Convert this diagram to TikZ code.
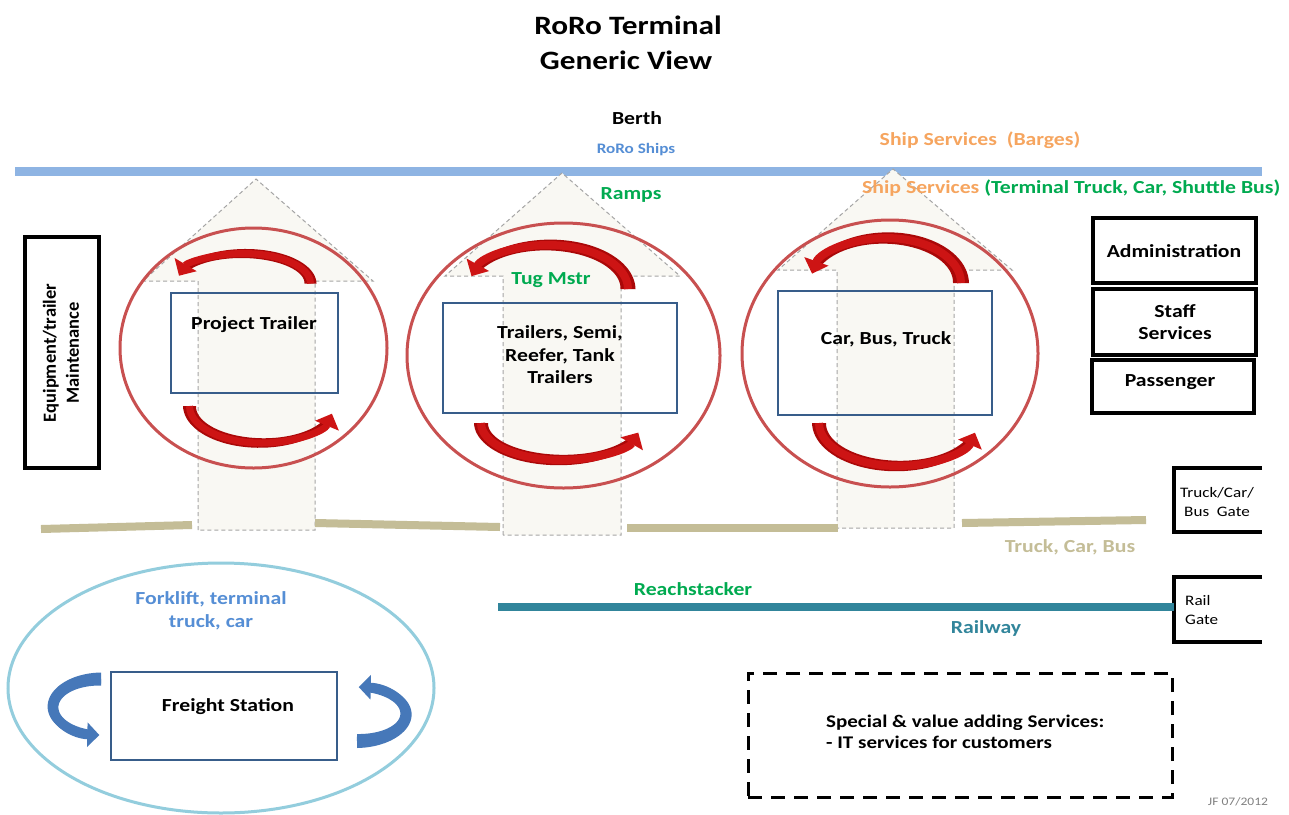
\documentclass[tikz,border=0pt]{standalone}
\usepackage{fontspec}
\setmainfont{Carlito}[FakeStretch=1.18]
\newfontfamily\upfont{Carlito}
\usetikzlibrary{arrows.meta}
\definecolor{tgreen}{RGB}{0,170,80}
\definecolor{torange}{RGB}{246,165,95}
\definecolor{tblue}{RGB}{85,142,213}
\definecolor{roadbeige}{RGB}{196,189,151}
\definecolor{railteal}{RGB}{49,133,155}
\definecolor{berthblue}{RGB}{142,180,227}
\definecolor{ringred}{RGB}{200,80,80}
\definecolor{arrowred}{RGB}{170,8,8}
\definecolor{arrowredhi}{RGB}{205,20,20}
\definecolor{arrowblue}{RGB}{70,120,185}
\definecolor{frameblue}{RGB}{56,93,138}
\definecolor{rampfill}{RGB}{249,248,243}
\definecolor{rampgray}{RGB}{165,165,165}
\definecolor{lightring}{RGB}{147,205,221}
\newcommand\lblfont{\bfseries\fontsize{18.4}{22.5}\selectfont}
\newcommand\smallfont{\fontsize{14.5}{19}\selectfont}
% #1 style prefix, #2 cx, #3 cy, #4 rx, #5 ry, #6 tail angle, #7 tip angle, #8 tail width, #9 head-side width
\newcommand\curvarrow[9]{%
  \pgfmathsetmacro\caEnd{(#7)-14*((#7)-(#6))/abs((#7)-(#6))}%
  \fill[#1 fill] plot[domain=#6:\caEnd, samples=40, variable=\x]
    ({#2+(#4+((#8)+((#9)-(#8))*(\x-(#6))/(\caEnd-(#6)))/2)*cos(\x)},{#3+(#5+((#8)+((#9)-(#8))*(\x-(#6))/(\caEnd-(#6)))/2)*sin(\x)})
    -- plot[domain=\caEnd:#6, samples=40, variable=\x]
    ({#2+(#4-((#8)+((#9)-(#8))*(\x-(#6))/(\caEnd-(#6)))/2)*cos(\x)},{#3+(#5-((#8)+((#9)-(#8))*(\x-(#6))/(\caEnd-(#6)))/2)*sin(\x)})
    -- cycle;
  \draw[#1 head, line width=#9pt] ({#2+#4*cos(#6)},{#3+#5*sin(#6)}) arc[start angle=#6, end angle=#7, x radius=#4, y radius=#5];
}
\begin{document}
\begin{tikzpicture}[x=1pt,y=-1pt,
  lbl/.style={font=\lblfont, inner sep=0pt, align=center},
  small/.style={font=\smallfont, inner sep=0pt, align=center},
  ramp/.style={fill=rampfill, draw=rampgray, line width=1pt, dash pattern=on 4pt off 3pt},
  redring/.style={draw=ringred, line width=3pt},
  blueframe/.style={draw=frameblue, line width=2.5pt, inner sep=0pt},
  blackbox/.style={draw=black, line width=3.5pt, inner sep=0pt},
  red fill/.style={fill=arrowred},
  red head/.style={draw=arrowredhi, -{Triangle[length=13pt,width=25pt]}},
  blue fill/.style={fill=arrowblue},
  blue head/.style={draw=arrowblue, -{Triangle[length=12pt,width=24pt]}},
  road/.style={draw=roadbeige, line width=8pt},
  gate/.style={draw=black, line width=3.5pt}]
\fill[white] (0,0) rectangle (1289,814);
\useasboundingbox (0,0) rectangle (1289,814);

% title
\node[lbl, font=\bfseries\fontsize{26.5}{30}\selectfont] (t1) at (628,25) {RoRo Terminal};
\node[lbl, font=\bfseries\fontsize{26.5}{30}\selectfont] (t2) at (626,60) {Generic View};

% berth
\node[lbl] (berth) at (637,118) {Berth};
\node[lbl, font=\bfseries\fontsize{14.5}{18}\selectfont, text=tblue] (roro) at (636,150) {RoRo Ships};
\draw[draw=berthblue, line width=9pt] (15,171) -- (1262,171);
\node[lbl, text=torange] (barges) at (980,140) {Ship Services\ \ (Barges)};

% ramps
\draw[ramp] (198,530) -- (198,281) -- (143,281) -- (256,179) -- (373,281) -- (315,281) -- (315,530) -- cycle;
\draw[ramp] (503,535) -- (503,276) -- (445,276) -- (562,173) -- (680,276) -- (621,276) -- (621,535) -- cycle;
\draw[ramp] (837,528) -- (837,270) -- (778,270) -- (893,169) -- (1012,270) -- (954,270) -- (954,528) -- cycle;

\node[lbl, anchor=west] (shipsvc) at (862,188) {\textcolor{torange}{Ship Services} \textcolor{tgreen}{(Terminal Truck, Car, Shuttle Bus)}};
\node[lbl, text=tgreen] (ramps) at (631,195) {Ramps};

% rings
\draw[redring] (253.5,348) ellipse[x radius=133.5, y radius=120];
\draw[redring] (563.5,355.5) ellipse[x radius=156.5, y radius=132.5];
\draw[redring] (890,353.5) ellipse[x radius=148, y radius=133.5];

% handling areas
\node[blueframe, minimum width=167pt, minimum height=100pt] (r1) at (254.5,343) {};
\node[blueframe, minimum width=234pt, minimum height=110pt] (r2) at (560,358) {};
\node[blueframe, minimum width=214pt, minimum height=124pt] (r3) at (885,353) {};
\node[lbl] (r1t) at (254,325) {Project Trailer};
\node[lbl] (r2t) at (560,355) {Trailers, Semi,\\Reefer, Tank\\Trailers};
\node[lbl] (r3t) at (886,339) {Car, Bus, Truck};
\node[lbl, text=tgreen] (tug) at (551,280) {Tug Mstr};

% red circulation arrows
\curvarrow{red}{243.6}{283.5}{66.9}{30}{0}{-165}{12}{7}
\curvarrow{red}{261.5}{406}{72}{37}{180}{12}{13}{7}
\curvarrow{red}{548}{289}{80}{44}{0}{-163}{15}{8}
\curvarrow{red}{561}{423}{80}{37}{180}{15}{14}{8}
\curvarrow{red}{885.7}{283}{75.3}{45}{0}{-168}{16}{8}
\curvarrow{red}{898}{423}{79}{43}{180}{13}{14}{8}

% left building
\node[blackbox, minimum width=74pt, minimum height=231pt] (equip) at (62,352.5) {};
\node[inner sep=0pt, align=center, rotate=90, font=\upfont\bfseries\fontsize{18.5}{23}\selectfont] (equipt) at (61,353) {Equipment/trailer\\Maintenance};

% right buildings
\node[blackbox, minimum width=163pt, minimum height=65pt] (admin) at (1174.5,250.5) {};
\node[lbl] (admint) at (1174,251) {Administration};
\node[blackbox, minimum width=163pt, minimum height=66pt] (staff) at (1174.5,322) {};
\node[lbl] (stafft) at (1175,322) {Staff\\Services};
\node[blackbox, minimum width=162pt, minimum height=53pt] (pass) at (1173,386.5) {};
\node[lbl] (passt) at (1170,382) {Passenger};

% road
\draw[road] (41,529) -- (192,525);
\draw[road] (315,523) -- (500,527);
\draw[road] (627,528) -- (838,528);
\draw[road] (962,523) -- (1146,520);
\node[lbl, text=roadbeige] (tcb) at (1070,547) {Truck, Car, Bus};

% gates
\coordinate (g1a) at (1262,468);
\coordinate (g1b) at (1262,532);
\draw[gate] (g1a) -- (1174,468) -- (1174,532) -- (g1b);
\node[small] (g1t) at (1217,502) {Truck/Car/\\Bus\ \ Gate};
\coordinate (g2a) at (1262,577);
\coordinate (g2b) at (1262,642);
\draw[gate] (g2a) -- (1174,577) -- (1174,642) -- (g2b);
\node[small, align=left, anchor=west] (g2t) at (1185,610) {Rail\\Gate};

% railway
\coordinate (railstart) at (498,607);
\coordinate (railend) at (1174,607);
\draw[draw=railteal, line width=8pt] (railstart) -- (railend);
\node[lbl, text=tgreen] (reach) at (693,589) {Reachstacker};
\node[lbl, text=railteal] (railway) at (986,628) {Railway};

% freight station
\draw[draw=lightring, line width=3pt] (221,688) ellipse[x radius=213, y radius=125];
\node[lbl, text=tblue] (fork) at (211,611) {Forklift, terminal\\truck, car};
\node[blueframe, minimum width=226pt, minimum height=88pt] (freight) at (224,716) {};
\node[lbl] (freightt) at (228,707) {Freight Station};
\curvarrow{blue}{101}{707}{48}{28}{-90}{-268}{13}{9}
\curvarrow{blue}{357}{714}{49}{27}{90}{-88}{14}{9}

% special services
\node[draw=black, line width=3pt, dash pattern=on 14pt off 9pt, minimum width=424pt, minimum height=124pt, inner sep=0pt] (special) at (960,735) {};
\node[lbl, align=left, anchor=west, font=\bfseries\fontsize{17.8}{21.5}\selectfont] (specialt) at (826,732) {Special \& value adding Services:\\- IT services for customers};

\node[inner sep=0pt, text=gray, font=\fontsize{11.5}{14}\selectfont] (jf) at (1238,802) {JF 07/2012};
\end{tikzpicture}
\end{document}
